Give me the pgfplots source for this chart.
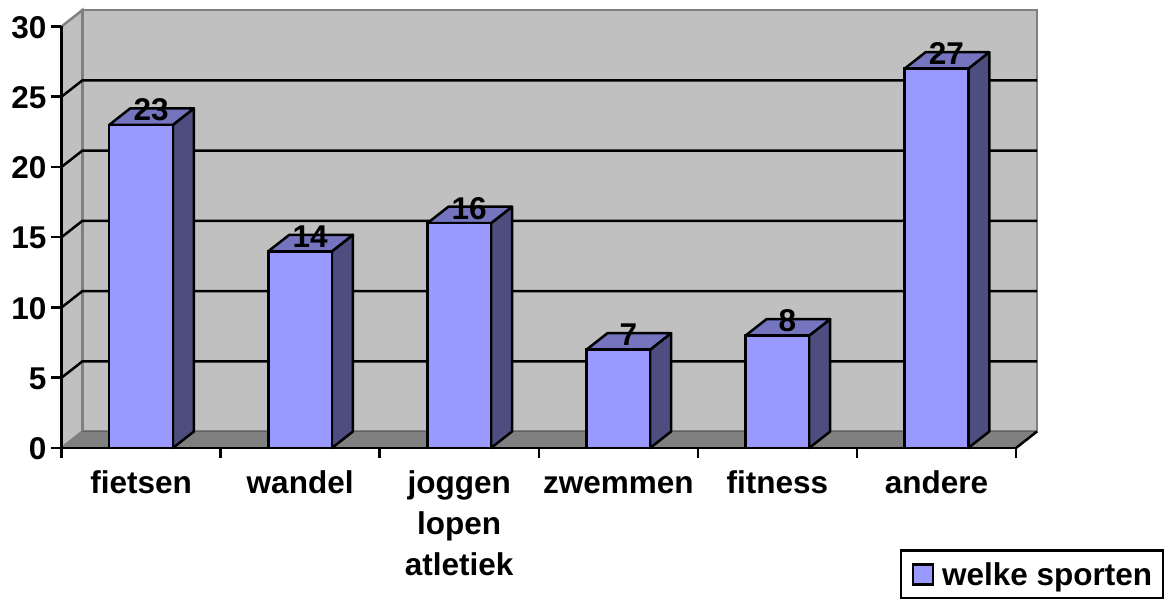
\documentclass[border=0pt]{standalone}
\usepackage{fontspec}
\setmainfont{Liberation Sans}
\usepackage{pgfplots}
\pgfplotsset{compat=1.18}
\definecolor{wall}{HTML}{C0C0C0}
\definecolor{floorc}{HTML}{808080}
\definecolor{front}{HTML}{9999FF}
\definecolor{topc}{HTML}{7575BF}
\definecolor{sidec}{HTML}{4D4D80}
\newcommand{\lblfont}{\fontsize{31.5}{41}\selectfont\bfseries}
\newcommand{\up}{\rule{0pt}{23pt}}
\begin{document}
\begin{tikzpicture}[x=1pt,y=1pt]
\useasboundingbox (0,0) rectangle (1173,599);
\begin{axis}[
	at={(61.5pt,151pt)},
	anchor=origin,
	scale only axis,
	width=954.5pt,
	height=421.5pt,
	xmin=0, xmax=6,
	ymin=0, ymax=30,
	clip=false,
	axis on top,
	axis x line=bottom,
	axis y line=left,
	axis line style={-, line width=2.5pt, black},
	xtick={0.5,1.5,2.5,3.5,4.5,5.5},
	xticklabels={\up fietsen,\up wandel,{\up joggen\\lopen\\atletiek},\up zwemmen,\up fitness,\up andere},
	minor xtick={0,1,2,3,4,5,6},
	ytick={0,5,10,15,20,25,30},
	tick align=outside,
	major tick length=10pt,
	minor tick length=10pt,
	tick style={black, line width=2.5pt},
	major x tick style={draw=none},
	minor y tick num=0,
	x tick label style={font=\lblfont, align=center, yshift=-9pt},
	y tick label style={font=\lblfont, inner sep=0pt, xshift=-5pt, yshift=-1pt},
	/pgf/number format/assume math mode=true,
	legend style={
		at={(axis cs:5.27,-10.8)}, anchor=south west,
		draw=black, line width=2.5pt, fill=white,
		inner xsep=9pt, inner ysep=10.5pt,
		font=\lblfont,
		nodes={text depth=0pt},
		legend cell align=left,
	},
]
% walls and floor
\addplot[fill=wall, draw=floorc, line width=2.5pt, forget plot] coordinates {(0.132,1.173) (6.132,1.173) (6.132,31.173) (0.132,31.173)} -- cycle;
\addplot[fill=wall, draw=floorc, line width=2.5pt, forget plot] coordinates {(0,0) (0.132,1.173) (0.132,31.173) (0,30)} -- cycle;
% grid lines
\addplot[black, line width=2.5pt, forget plot] coordinates {(0,5) (0.132,6.173) (6.132,6.173)};
\addplot[black, line width=2.5pt, forget plot] coordinates {(0,10) (0.132,11.173) (6.132,11.173)};
\addplot[black, line width=2.5pt, forget plot] coordinates {(0,15) (0.132,16.173) (6.132,16.173)};
\addplot[black, line width=2.5pt, forget plot] coordinates {(0,20) (0.132,21.173) (6.132,21.173)};
\addplot[black, line width=2.5pt, forget plot] coordinates {(0,25) (0.132,26.173) (6.132,26.173)};
\addplot[fill=floorc, draw=none, forget plot] coordinates {(0,0) (0.132,1.173) (6.132,1.173) (6,0)} -- cycle;
\addplot[floorc!75!black, line width=1.5pt, forget plot] coordinates {(0.132,1.173) (6.132,1.173)};
\addplot[black, line width=2.5pt, forget plot] coordinates {(6,0) (6.132,1.173)};
% bar sides
\addplot[fill=sidec, draw=black, line width=2.5pt, line join=round, forget plot] coordinates {(0.7,0) (0.832,1.173) (0.832,24.173) (0.7,23)} -- cycle;
\addplot[fill=sidec, draw=black, line width=2.5pt, line join=round, forget plot] coordinates {(1.7,0) (1.832,1.173) (1.832,15.173) (1.7,14)} -- cycle;
\addplot[fill=sidec, draw=black, line width=2.5pt, line join=round, forget plot] coordinates {(2.7,0) (2.832,1.173) (2.832,17.173) (2.7,16)} -- cycle;
\addplot[fill=sidec, draw=black, line width=2.5pt, line join=round, forget plot] coordinates {(3.7,0) (3.832,1.173) (3.832,8.173) (3.7,7)} -- cycle;
\addplot[fill=sidec, draw=black, line width=2.5pt, line join=round, forget plot] coordinates {(4.7,0) (4.832,1.173) (4.832,9.173) (4.7,8)} -- cycle;
\addplot[fill=sidec, draw=black, line width=2.5pt, line join=round, forget plot] coordinates {(5.7,0) (5.832,1.173) (5.832,28.173) (5.7,27)} -- cycle;
% bar tops
\addplot[fill=topc, draw=black, line width=2.5pt, line join=round, forget plot] coordinates {(0.3,23) (0.432,24.173) (0.832,24.173) (0.7,23)} -- cycle;
\addplot[fill=topc, draw=black, line width=2.5pt, line join=round, forget plot] coordinates {(1.3,14) (1.432,15.173) (1.832,15.173) (1.7,14)} -- cycle;
\addplot[fill=topc, draw=black, line width=2.5pt, line join=round, forget plot] coordinates {(2.3,16) (2.432,17.173) (2.832,17.173) (2.7,16)} -- cycle;
\addplot[fill=topc, draw=black, line width=2.5pt, line join=round, forget plot] coordinates {(3.3,7) (3.432,8.173) (3.832,8.173) (3.7,7)} -- cycle;
\addplot[fill=topc, draw=black, line width=2.5pt, line join=round, forget plot] coordinates {(4.3,8) (4.432,9.173) (4.832,9.173) (4.7,8)} -- cycle;
\addplot[fill=topc, draw=black, line width=2.5pt, line join=round, forget plot] coordinates {(5.3,27) (5.432,28.173) (5.832,28.173) (5.7,27)} -- cycle;
% bar fronts
\addplot[ybar, bar width=63.6pt, fill=front, draw=black, line width=2.5pt,
	nodes near coords,
	every node near coord/.style={anchor=center, xshift=10pt, yshift=15pt, inner sep=0pt, font=\lblfont, text=black},
	legend image code/.code={\draw[fill=front, draw=black, line width=2.5pt] (3pt,-10pt) rectangle (23pt,10pt); \path[draw=none,fill=none] (0pt,0pt) -- (30pt,0pt);},
] coordinates {(0.5,23) (1.5,14) (2.5,16) (3.5,7) (4.5,8) (5.5,27)};
\addlegendentry{welke sporten}
\end{axis}
\end{tikzpicture}
\end{document}
